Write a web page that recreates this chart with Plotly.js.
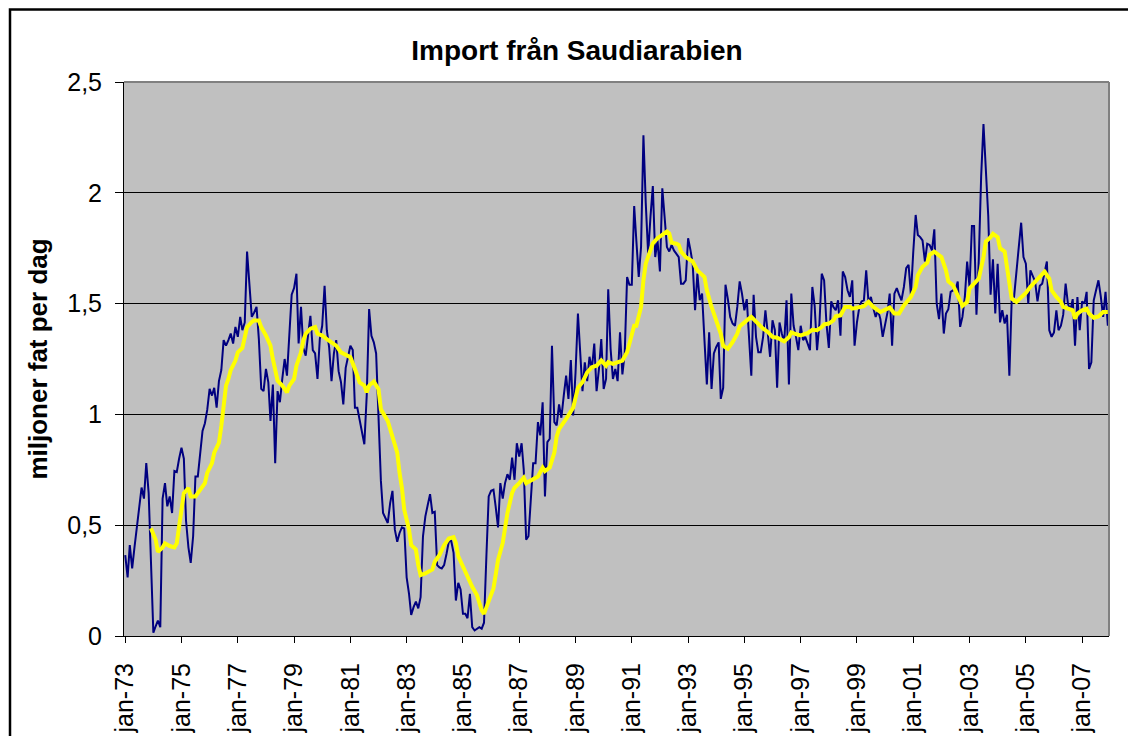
<!DOCTYPE html>
<html><head><meta charset="utf-8">
<script src="https://cdn.plot.ly/plotly-3.0.1.min.js"></script>
<style>html,body{margin:0;padding:0;background:#fff}#chart{width:1128px;height:736px}</style>
</head><body><div id="chart"></div>
<script>
const startYear = 1973;

// Monthly imports from Saudi Arabia, million barrels per day (jan-73 .. dec-07)
const imports = [
/*1973*/0.365,0.264,0.41,0.305,0.40,0.49,0.58,0.67,0.62,0.78,0.645,0.28,
/*1974*/0.015,0.045,0.07,0.04,0.62,0.69,0.585,0.63,0.555,0.745,0.74,0.80,
/*1975*/0.85,0.80,0.52,0.40,0.33,0.45,0.72,0.72,0.83,0.925,0.96,1.02,
/*1976*/1.115,1.085,1.12,1.03,1.15,1.20,1.335,1.31,1.335,1.365,1.32,1.395,
/*1977*/1.35,1.44,1.38,1.415,1.735,1.585,1.44,1.46,1.485,1.34,1.115,1.105,
/*1978*/1.205,1.145,0.97,1.135,0.78,1.105,1.055,1.16,1.25,1.175,1.355,1.54,
/*1979*/1.57,1.635,1.32,1.485,1.30,1.265,1.355,1.445,1.29,1.275,1.16,1.34,
/*1980*/1.40,1.58,1.38,1.30,1.15,1.275,1.335,1.195,1.145,1.045,1.21,1.265,
/*1981*/1.31,1.29,1.03,1.03,0.98,0.925,0.865,1.085,1.475,1.355,1.325,1.275,
/*1982*/1.01,0.70,0.555,0.53,0.51,0.60,0.655,0.48,0.425,0.465,0.49,0.485,
/*1983*/0.265,0.19,0.095,0.13,0.155,0.125,0.175,0.45,0.54,0.59,0.64,0.555,
/*1984*/0.56,0.32,0.31,0.305,0.32,0.37,0.425,0.43,0.375,0.16,0.24,0.21,
/*1985*/0.10,0.10,0.08,0.19,0.04,0.025,0.033,0.04,0.033,0.06,0.36,0.63,
/*1986*/0.655,0.66,0.585,0.49,0.69,0.62,0.69,0.73,0.705,0.805,0.705,0.87,
/*1987*/0.81,0.87,0.75,0.435,0.45,0.63,0.78,0.78,0.965,0.905,1.055,0.63,
/*1988*/0.875,0.89,1.31,0.965,0.95,1.045,0.985,1.085,1.175,1.07,1.245,0.995,
/*1989*/1.19,1.455,1.30,1.105,1.235,1.15,1.26,1.205,1.32,1.105,1.205,1.34,
/*1990*/1.115,1.16,1.565,1.295,1.16,1.205,1.15,1.37,1.18,1.275,1.62,1.585,
/*1991*/1.585,1.94,1.785,1.62,1.755,2.26,1.955,1.725,1.895,2.03,1.71,1.785,
/*1992*/1.645,2.02,1.895,1.755,1.735,1.765,1.74,1.725,1.71,1.59,1.59,1.605,
/*1993*/1.795,1.74,1.68,1.47,1.635,1.515,1.545,1.335,1.135,1.37,1.115,1.275,
/*1994*/1.305,1.325,1.07,1.12,1.585,1.52,1.44,1.41,1.40,1.485,1.60,1.545,
/*1995*/1.47,1.52,1.365,1.175,1.54,1.35,1.28,1.28,1.35,1.47,1.365,1.26,
/*1996*/1.425,1.38,1.12,1.415,1.365,1.325,1.515,1.135,1.545,1.40,1.35,1.29,
/*1997*/1.40,1.335,1.35,1.32,1.29,1.575,1.49,1.29,1.41,1.635,1.605,1.41,
/*1998*/1.30,1.51,1.485,1.47,1.515,1.355,1.645,1.62,1.56,1.53,1.605,1.31,
/*1999*/1.415,1.485,1.51,1.515,1.65,1.50,1.53,1.48,1.44,1.47,1.43,1.35,
/*2000*/1.415,1.46,1.545,1.31,1.545,1.57,1.54,1.515,1.575,1.66,1.675,1.54,
/*2001*/1.735,1.90,1.81,1.80,1.785,1.69,1.77,1.765,1.74,1.835,1.50,1.43,
/*2002*/1.545,1.365,1.455,1.475,1.553,1.56,1.56,1.60,1.395,1.44,1.53,1.69,
/*2003*/1.575,1.85,1.85,1.45,1.70,2.075,2.31,2.075,1.895,1.54,1.70,1.455,
/*2004*/1.68,1.415,1.47,1.41,1.45,1.175,1.515,1.53,1.665,1.755,1.865,1.71,
/*2005*/1.68,1.50,1.65,1.62,1.60,1.51,1.58,1.59,1.635,1.69,1.38,1.35,
/*2006*/1.37,1.47,1.38,1.40,1.45,1.59,1.50,1.47,1.52,1.31,1.53,1.38,
/*2007*/1.51,1.50,1.553,1.205,1.235,1.515,1.56,1.605,1.53,1.44,1.553,1.40
];

// 12-month moving average (month index from jan-73, value)
const maMonth = [11,13,14,16,17,19,21,22,23,24,25,27,28,30,31,33,34,35,37,38,40,41,42,43,44,45,47,48,50,51,52,54,55,57,58,60,62,63,64,65,67,68,69,70,72,73,75,76,77,79,81,82,84,86,88,90,92,95,96,98,100,102,103,104,106,108,109,112,114,116,117,118,119,121,122,124,125,126,128,131,132,134,136,138,140,141,142,144,145,146,148,150,151,152,153,155,157,158,159,161,162,163,165,166,168,170,171,173,176,178,179,181,183,184,185,188,190,191,193,195,197,199,201,203,205,206,208,210,212,214,215,216,217,218,220,221,222,224,225,227,229,231,232,233,235,236,237,239,242,244,247,248,250,252,254,255,257,259,261,262,264,266,267,269,271,272,274,276,278,280,281,283,284,286,288,290,291,293,295,297,298,300,302,303,305,307,309,310,313,315,317,319,322,324,326,328,330,332,335,337,338,340,342,343,345,348,350,351,353,354,356,357,359,360,362,364,366,367,369,370,372,373,375,376,377,378,380,382,384,386,388,390,392,394,395,397,399,400,402,404,405,406,408,410,411,413,415,417,419];
const maValue = [0.486,0.433,0.38,0.40,0.418,0.406,0.40,0.418,0.494,0.585,0.645,0.668,0.63,0.63,0.645,0.668,0.69,0.736,0.78,0.827,0.872,0.948,1.04,1.13,1.16,1.20,1.243,1.28,1.30,1.34,1.394,1.417,1.424,1.424,1.394,1.356,1.31,1.25,1.19,1.152,1.13,1.11,1.10,1.13,1.16,1.22,1.28,1.334,1.364,1.387,1.394,1.364,1.356,1.34,1.326,1.31,1.28,1.265,1.258,1.205,1.144,1.13,1.10,1.13,1.148,1.114,1.023,0.97,0.90,0.827,0.736,0.668,0.57,0.48,0.41,0.39,0.32,0.275,0.282,0.30,0.335,0.365,0.41,0.44,0.446,0.42,0.36,0.313,0.29,0.268,0.222,0.185,0.154,0.116,0.10,0.162,0.215,0.275,0.343,0.42,0.48,0.555,0.646,0.669,0.69,0.714,0.69,0.70,0.72,0.76,0.744,0.76,0.828,0.90,0.933,0.98,1.01,1.03,1.12,1.145,1.19,1.213,1.22,1.243,1.22,1.236,1.228,1.236,1.243,1.28,1.32,1.35,1.40,1.40,1.485,1.606,1.68,1.742,1.772,1.795,1.81,1.825,1.817,1.775,1.77,1.765,1.735,1.71,1.69,1.65,1.62,1.56,1.485,1.425,1.364,1.31,1.296,1.326,1.364,1.397,1.417,1.432,1.44,1.417,1.40,1.387,1.372,1.35,1.346,1.334,1.33,1.348,1.37,1.362,1.356,1.364,1.367,1.382,1.38,1.394,1.406,1.41,1.424,1.443,1.447,1.485,1.485,1.477,1.485,1.488,1.508,1.485,1.462,1.473,1.482,1.455,1.455,1.492,1.53,1.575,1.628,1.666,1.684,1.72,1.734,1.71,1.65,1.60,1.583,1.56,1.51,1.49,1.507,1.568,1.59,1.613,1.71,1.78,1.80,1.815,1.80,1.75,1.735,1.666,1.59,1.523,1.508,1.53,1.548,1.576,1.598,1.62,1.644,1.613,1.56,1.53,1.508,1.485,1.477,1.47,1.432,1.455,1.47,1.477,1.455,1.436,1.442,1.462,1.462];

const tickDates = ['1973-01-01','1975-01-01','1977-01-01','1979-01-01','1981-01-01','1983-01-01','1985-01-01','1987-01-01','1989-01-01','1991-01-01','1993-01-01','1995-01-01','1997-01-01','1999-01-01','2001-01-01','2003-01-01','2005-01-01','2007-01-01'];
const tickLabels = ['jan-73','jan-75','jan-77','jan-79','jan-81','jan-83','jan-85','jan-87','jan-89','jan-91','jan-93','jan-95','jan-97','jan-99','jan-01','jan-03','jan-05','jan-07'];
const yTickVals = [0,0.5,1,1.5,2,2.5];
const yTickText = ['0','0,5','1','1,5','2','2,5'];

function monthDate(i){
  const y = startYear + Math.floor(i/12);
  const m = (i % 12) + 1;
  return y + '-' + String(m).padStart(2,'0') + '-01';
}
const xDates = imports.map((_, i) => monthDate(i));
const maDates = maMonth.map(monthDate);

const FONT = '"Liberation Sans", Arial, sans-serif';

const traces = [
  {x: xDates, y: imports, type: 'scatter', mode: 'lines', name: 'Import',
   line: {color: '#000080', width: 2}, hoverinfo: 'skip'},
  {x: maDates, y: maValue, type: 'scatter', mode: 'lines', name: '12 mån glid. medel',
   line: {color: '#FFFF00', width: 4}, hoverinfo: 'skip'}
];

// plot area: x 124..1109, y 82..636
const pxX = px => (px - 124) / 985;
const pxY = py => (636 - py) / 554;

const layout = {
  width: 1128, height: 736,
  margin: {l: 124, r: 19, t: 82, b: 100},
  paper_bgcolor: '#ffffff', plot_bgcolor: '#c0c0c0',
  font: {family: FONT, color: '#000'},
  showlegend: false,
  title: {text: '<b>Import från Saudiarabien</b>', font: {family: FONT, size: 28, color: '#000'},
          x: 577/1128, xref: 'container', xanchor: 'center', y: 1 - 50/736, yref: 'container', yanchor: 'middle'},
  xaxis: {type: 'date', range: ['1972-12-16', '2007-12-16'], tickvals: tickDates, ticktext: tickLabels,
          tickangle: -90, ticks: 'outside', ticklen: 6, tickwidth: 1, tickcolor: '#000',
          showline: true, linecolor: '#000', linewidth: 1, showgrid: false, zeroline: false,
          tickfont: {family: FONT, size: 25, color: '#000'}, ticklabelstandoff: 10, fixedrange: true},
  yaxis: {range: [0, 2.5], tickvals: yTickVals, ticktext: yTickText,
          ticks: 'outside', ticklen: 8, tickwidth: 1, tickcolor: '#000',
          showline: true, linecolor: '#000', linewidth: 1,
          showgrid: true, gridcolor: '#000', gridwidth: 1, zeroline: false,
          tickfont: {family: FONT, size: 25, color: '#000'}, ticklabelstandoff: 8, fixedrange: true,
          title: {text: '<b>miljoner fat per dag</b>', font: {family: FONT, size: 26, color: '#000'}, standoff: 12}},
  shapes: [
    {type: 'line', xref: 'paper', yref: 'paper', x0: 0, x1: 1, y0: 1, y1: 1, line: {color: '#808080', width: 2}, layer: 'above'},
    {type: 'line', xref: 'paper', yref: 'paper', x0: 1, x1: 1, y0: 0, y1: 1, line: {color: '#808080', width: 2}, layer: 'above'},
    {type: 'rect', xref: 'paper', yref: 'paper', x0: pxX(10), x1: pxX(1160), y0: pxY(780), y1: pxY(9.5),
     line: {color: '#000', width: 2.5}, fillcolor: 'rgba(0,0,0,0)', layer: 'above'}
  ]
};

Plotly.newPlot('chart', traces, layout, {displayModeBar: false, staticPlot: true});
</script>
</body></html>
